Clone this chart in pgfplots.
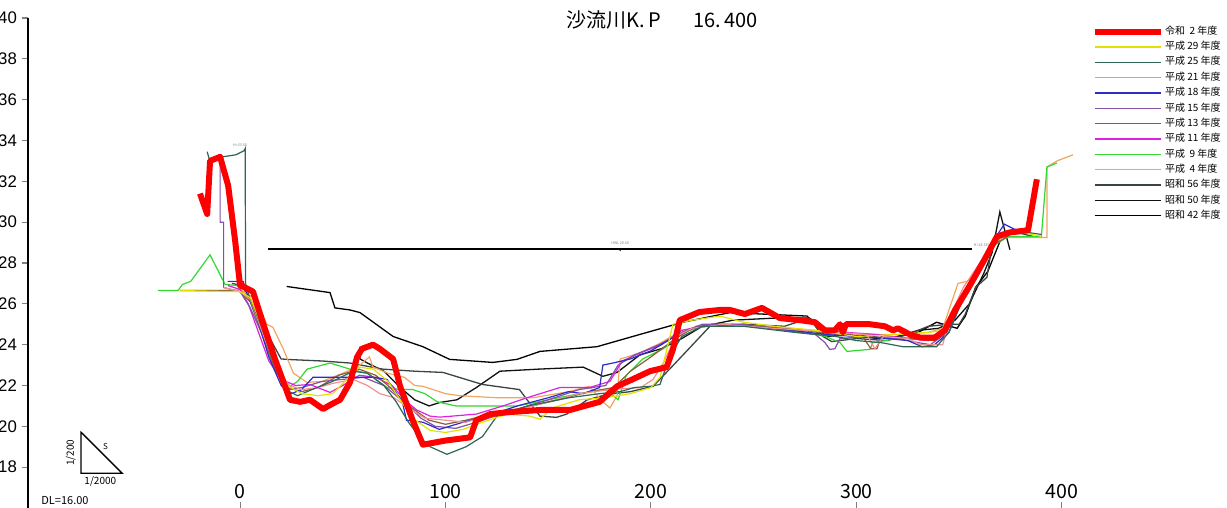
\documentclass[border=0pt]{standalone}
\usepackage{pgfplots}
\pgfplotsset{compat=1.18}
\usepackage{fontspec}
\setmainfont{Noto Sans CJK JP}
\newfontfamily\arial{Liberation Sans}
\definecolor{cR2}{HTML}{FF0000}
\definecolor{cH29}{HTML}{E2E200}
\definecolor{cH25}{HTML}{2E6656}
\definecolor{cH21}{HTML}{F29090}
\definecolor{cH18}{HTML}{2C2CC8}
\definecolor{cH15}{HTML}{8450A8}
\definecolor{cH13}{HTML}{8B5E3C}
\definecolor{cH11}{HTML}{E020E0}
\definecolor{cH9}{HTML}{33D633}
\definecolor{cH4}{HTML}{F2A460}
\definecolor{cS56}{HTML}{3A4440}
\definecolor{cS50}{HTML}{111111}
\definecolor{cS42}{HTML}{000000}
\begin{document}
\begin{tikzpicture}
\begin{axis}[
  at={(0,0)}, anchor=south west,
  scale only axis, width=537.5pt, height=245pt,
  xmin=-103.2, xmax=420, ymin=16, ymax=40,
  clip=false,
  axis x line*=bottom, axis y line*=left,
  x axis line style={draw=none},
  y axis line style={line width=0.8pt},
  xtick={0,100,200,300,400},
  ytick={18,20,...,40},
  tick align=outside,
  major tick length=3pt,
  xtick style={yshift=3pt, line width=0.5pt},
  ytick style={line width=0.6pt},
  /pgf/number format/assume math mode=true,
  yticklabel style={font=\arial\fontsize{8.4}{9}\selectfont, xshift=1pt},
  xticklabel style={font=\fontsize{9.8}{10}\selectfont, anchor=south, yshift=4pt},
  reverse legend,
  legend cell align=left,
  legend image code/.code={\draw[#1] (0pt,0pt) -- (33pt,0pt);},
  legend style={at={(axis description cs:0.989,0.988)}, anchor=north west,
    draw=none, fill=none, inner sep=0pt, row sep=0.35pt,
    font=\fontsize{5.0}{5.5}\selectfont, nodes={inner sep=0.8pt}},
]
% HWL line
\addplot[forget plot, black, line width=0.7pt] coordinates {(13.6,28.68) (356,28.68)};
\addplot[forget plot, only marks, mark=triangle*, mark options={rotate=180, scale=0.35, black}] coordinates {(185,28.68)};
% S42
\addplot[cS42, line width=0.65pt] coordinates {
(22.7,26.85) (43.8,26.55) (46.2,25.8) (53.5,25.7) (58.4,25.57) (74.5,24.4) (89,23.9) (102,23.28) (123,23.13) (134.8,23.28) (146,23.67) (173.7,23.9) (194.6,24.5) (215.6,25.1) (238.4,25.57) (276,25.4) (279,25.1) (285,24.4) (300,24.5) (315,24.3) (330,24.6) (339,25.1) (349,24.8) (353,25.4) (358,26.8) (364,27.6) (370,29.1)};
\addlegendentry{昭和 42 年度}
% S50
\addplot[cS50, line width=0.65pt] coordinates {
(58.4,23.9) (58.4,23.3) (62,23.1) (70,22.7) (78,21.9) (85,21.3) (92,21.0) (97.3,21.17) (105.6,21.3) (115,21.9) (126.5,22.7) (145,22.8) (167,22.9) (176.6,22.45) (183.5,22.64) (194.6,23.5) (205,23.8) (215,24.3) (225,24.9) (240,25.2) (260,25.3) (277,25.3) (285,24.8) (295,24.5) (310,24.3) (320,24.4) (330,24.7) (340,24.8) (348,25.2) (355,26.0) (362,27.5) (366,28.5) (369.8,30.5) (374.7,28.65)};
\addlegendentry{昭和 50 年度}
% S56
\addplot[cS56, line width=0.65pt] coordinates {
(-4,27.0) (1,26.9) (3,26.5) (8,25.6) (14,24.4) (20,23.3) (24.3,23.27) (40,23.2) (53.5,23.1) (69.6,22.8) (85,22.7) (98.8,22.64) (118,22.05) (136,21.8) (139.7,21.3) (146,20.5) (154,20.44) (159,20.6) (169,21.3) (178.6,21.56) (190,21.7) (201,21.96) (210,22.9) (219,23.86) (228.7,24.9) (245,25.0) (265,24.9) (277,25.3) (283.7,24.4) (288,24.15) (300,24.3) (315,24.2) (325,24.5) (335,24.9) (345,25.0) (350,25.0) (353,25.5) (358,26.8) (363.5,27.3) (366,28.9) (370,29.4) (378,29.5) (386,29.3)};
\addlegendentry{昭和 56 年度}
% H4
\addplot[cH4, line width=0.6pt] coordinates {
(-29,26.65) (-5,26.65) (0,26.7) (8,26.2) (13,25.0) (16,24.85) (21,23.8) (26,22.6) (32.6,22.15) (40,22.2) (50,22.6) (57,22.9) (63,23.4) (64.7,22.9) (72,22.6) (80,22.4) (85,22.0) (89,21.96) (100,21.6) (107,21.5) (125,21.4) (142.6,21.4) (160,21.7) (170,21.96) (176.6,21.2) (180,20.9) (183.5,21.5) (185,23.3) (195,23.6) (205,24.1) (215,24.7) (230,25.0) (255,24.9) (280,24.7) (300,24.5) (320,24.5) (335,24.6) (342,24.8) (349.4,27.0) (353.8,27.1) (358,27.5) (364,28.4) (369.8,29.25) (386.9,29.25) (392.7,29.25) (392.7,32.7) (397.6,33.0) (405.4,33.3)};
\addlegendentry{平成\ \ 4 年度}
% H9
\addplot[cH9, line width=0.6pt] coordinates {
(-40,26.65) (-30.2,26.65) (-28,26.95) (-24,27.1) (-14.6,28.4) (-7.3,26.95) (-1.5,26.9) (0,26.7) (5,26.1) (11,24.4) (17,22.7) (23.4,21.9) (28,22.2) (32.6,22.8) (43.8,23.1) (53.5,22.8) (62,22.6) (71.5,21.9) (78,21.8) (84,21.8) (90,21.6) (96,21.2) (105,21.0) (120,21.0) (135,21.0) (150,21.3) (165,21.6) (178,21.8) (184,21.3) (188,22.5) (196,23.3) (206,23.8) (215,24.6) (230,25.0) (250,24.9) (270,24.7) (285,24.4) (292,24.1) (295.4,23.67) (306.6,23.77) (308,24.1) (320,24.3) (335,24.4) (343,24.6) (350,26.0) (358,27.5) (366,28.8) (374,29.3) (382,29.3) (390,29.3) (392.7,32.7) (397.6,32.9)};
\addlegendentry{平成\ \ 9 年度}
% H11
\addplot[cH11, line width=0.6pt] coordinates {
(-6,26.9) (0,26.7) (4,26.0) (9,24.6) (14,23.2) (20,22.3) (27,22.0) (34,22.05) (43.8,21.66) (50,22.0) (58,22.5) (66,22.4) (74,22.0) (80,21.3) (86,20.8) (92.5,20.5) (97.3,20.45) (115,20.6) (128,21.0) (139.7,21.4) (155.7,21.9) (170,21.9) (180,22.2) (186,23.2) (195,23.6) (205,24.0) (215,24.7) (230,25.0) (250,24.9) (275,24.7) (295,24.6) (310,24.5) (325,24.3) (335,24.2) (344,24.6) (350,26.0) (357,27.4) (365,28.8) (372,29.4) (380,29.6)};
\addlegendentry{平成 11 年度}
% H13
\addplot[cH13, line width=0.6pt] coordinates {
(-29,26.65) (-5,26.65) (0,26.6) (5,26.1) (11,24.5) (17,22.8) (23,21.9) (30,21.7) (38,21.9) (48,22.5) (58,22.8) (66,22.5) (72,22.0) (78,21.4) (85,20.8) (92,20.3) (100,20.1) (110,20.3) (122,20.6) (138,20.9) (155,21.3) (170,21.7) (182,21.9) (190,22.7) (200,23.4) (212,24.3) (222,24.9) (240,25.0) (265,24.8) (290,24.5) (303,24.4) (307,23.8) (310,23.8) (312,24.4) (325,24.3) (338,24.2) (346,25.0) (353,26.5) (360,27.7) (367,28.9) (375,29.4) (385,29.5)};
\addlegendentry{平成 13 年度}
% H15
\addplot[cH15, line width=0.6pt] coordinates {
(-9.7,33.2) (-9.7,30.0) (-8,30.0) (-8,26.8) (0,26.6) (5,25.8) (11.2,24.4) (15.6,23.4) (21,22.3) (24.3,21.8) (30,21.9) (40,22.2) (50,22.3) (60,22.4) (70,22.0) (76,21.5) (82,21.0) (88,20.4) (95,20.0) (105,19.9) (115,20.2) (130,20.7) (150,21.3) (165,21.8) (178,22.0) (184,23.0) (192,23.5) (204,24.0) (215,24.6) (225,25.0) (245,25.0) (265,24.7) (280,24.5) (284.7,24.1) (287,23.77) (289.5,23.8) (292,24.3) (305,24.4) (320,24.3) (330,24.1) (336,24.0) (343,24.5) (350,26.0) (358,27.6) (366,28.9) (374,29.5) (382,29.5)};
\addlegendentry{平成 15 年度}
% H18
\addplot[cH18, line width=0.6pt] coordinates {
(-6,27.1) (1.5,27.1) (3,26.6) (8,25.4) (14,23.4) (20,22.0) (25,21.6) (30,21.8) (35.5,22.4) (48.7,22.4) (58,22.4) (65,22.4) (71.5,22.3) (79,21.2) (81,20.3) (89,20.2) (97,19.85) (108.5,20.2) (120,20.5) (135,21.0) (150,21.4) (160,21.7) (167,21.6) (175,21.9) (176.6,23.0) (181.5,23.1) (190,23.3) (200,23.7) (210,24.3) (220,24.8) (235,25.0) (260,24.8) (285,24.5) (300,24.4) (315,24.3) (325,24.2) (332,23.9) (338,24.0) (345,24.6) (352,26.3) (360,27.9) (366,29.0) (372,29.9) (378,29.6) (386,29.4)};
\addlegendentry{平成 18 年度}
% H21
\addplot[cH21, line width=0.6pt] coordinates {
(-8,26.8) (0,26.6) (5,26.2) (12,24.3) (18,22.8) (24,22.0) (30,21.8) (38,21.9) (45,22.1) (55,22.3) (62,22.0) (68,21.6) (75,21.4) (82,20.9) (90,20.4) (100,20.3) (110,20.2) (120,20.5) (135,20.8) (150,21.2) (165,21.6) (180,21.8) (195,21.9) (201,22.3) (206,23.1) (212,24.4) (220,24.8) (235,25.0) (260,24.8) (290,24.6) (305,24.5) (309,23.8) (313,24.4) (325,24.3) (331,24.0) (342,24.0) (346,25.5) (352,26.8) (360,28.0) (368,29.1) (376,29.5) (385,29.5)};
\addlegendentry{平成 21 年度}
% H25
\addplot[cH25, line width=0.6pt] coordinates {
(-16,33.45) (-15,33.1) (-2,33.3) (2,33.5) (2.5,33.6) (2.7,27.0) (4,26.5) (10,25.0) (16,23.3) (22,21.8) (28,21.5) (35,21.8) (45,22.2) (55,22.7) (62,22.6) (70,22.0) (76,21.2) (82,20.2) (88,19.4) (92.5,19.0) (100.7,18.63) (110,19.0) (118,19.5) (125,20.5) (140,21.0) (160,21.4) (175,21.6) (185,21.7) (192,21.9) (199.5,21.96) (204.4,22.05) (209,23.4) (215,24.4) (225,24.9) (245,24.9) (270,24.6) (290,24.4) (300,24.2) (312,24.1) (322.6,23.9) (339,23.9) (345,24.6) (350,25.8) (356,27.0) (362,28.2) (368,29.2) (375,29.5) (383,29.5) (390,29.4)};
\addlegendentry{平成 25 年度}
% H29
\addplot[cH29, line width=0.6pt] coordinates {
(-29,26.65) (-5,26.6) (0,26.6) (5,26.3) (12,24.6) (18,23.0) (23,22.0) (30,21.6) (38,21.5) (45,21.6) (52,22.3) (58,22.9) (65,22.8) (72,22.2) (78,21.3) (84,20.4) (92.5,19.8) (100,19.7) (108.5,19.85) (118,20.2) (130,20.6) (141,20.5) (146,20.35) (152,20.9) (165,21.3) (178,21.4) (190,21.6) (200,21.9) (204.4,22.4) (210.7,25.0) (220,25.2) (233.6,25.4) (245,25.1) (260,24.9) (280,24.7) (300,24.4) (320,24.5) (335,24.6) (342,24.7) (350,26.0) (358,27.5) (366,28.9) (372,29.4) (380,29.5) (386,29.4) (390,29.3)};
\addlegendentry{平成 29 年度}
% R2
\addplot[cR2, line width=3pt, line join=round] coordinates {
(-19.5,31.4) (-16,30.4) (-14.6,33.0) (-9.7,33.2) (-5.8,31.8) (-2.4,29.1) (0,26.9) (2.4,26.8) (6.3,26.6) (10.7,25.2) (17,23.3) (24.3,21.3) (29.2,21.2) (34,21.3) (40.4,20.85) (44.8,21.1) (48.7,21.3) (53.5,22.15) (57,23.4) (59.4,23.8) (64.7,24.0) (68,23.8) (74.5,23.3) (77.9,21.96) (84,20.3) (89,19.1) (99.8,19.3) (112,19.46) (115,20.3) (121.7,20.6) (131.4,20.7) (146,20.8) (160.6,20.8) (175,21.2) (183.5,21.96) (191,22.3) (199.5,22.7) (207.6,22.9) (210.7,23.77) (214,25.2) (223.6,25.6) (233.6,25.7) (238.4,25.7) (245.7,25.5) (254,25.8) (262.8,25.3) (272.5,25.2) (279.8,25.1) (284.7,24.7) (289.5,24.7) (292,25.0) (293.4,24.6) (294.9,25.0) (306.6,25.0) (313.9,24.9) (317.8,24.7) (320.2,24.8) (326,24.5) (330.9,24.35) (338.2,24.35) (343,24.7) (348,25.7) (355.2,26.9) (362.5,28.2) (368.4,29.3) (374.7,29.5) (383.5,29.6) (387.8,32.1)};
\addlegendentry{令和\ \ 2 年度}
% annotations
\node[font=\fontsize{10}{11}\selectfont] at (axis description cs:0.59,0.995) {沙流川K.\,P\hspace{1.6em}16.\,400};
\draw[black, line width=0.7pt] (axis cs:-77.4,19.71) -- (axis cs:-77.4,17.7) -- (axis cs:-57.4,17.7) -- cycle;
\node[font=\fontsize{5}{5}\selectfont, rotate=90] at (axis cs:-82.4,18.7) {1/200};
\node[font=\fontsize{4}{4}\selectfont] at (axis cs:-65.5,19.0) {S};
\node[font=\fontsize{5}{5}\selectfont] at (axis cs:-68,17.3) {1/2000};
\node[font=\fontsize{5.5}{6}\selectfont] at (axis cs:-85.2,16.38) {DL=16.00};
\node[font=\fontsize{1.8}{2}\selectfont, text=gray] at (axis cs:185,28.95) {HWL 28.68};
\node[font=\fontsize{1.8}{2}\selectfont, text=gray] at (axis cs:0,33.75) {H=33.58};
\node[font=\fontsize{1.8}{2}\selectfont, text=gray] at (axis cs:361,28.85) {H=28.382};
\end{axis}
\pgfresetboundingbox
\useasboundingbox (-14pt,0pt) rectangle (599.5pt,254pt);
\end{tikzpicture}
\end{document}
